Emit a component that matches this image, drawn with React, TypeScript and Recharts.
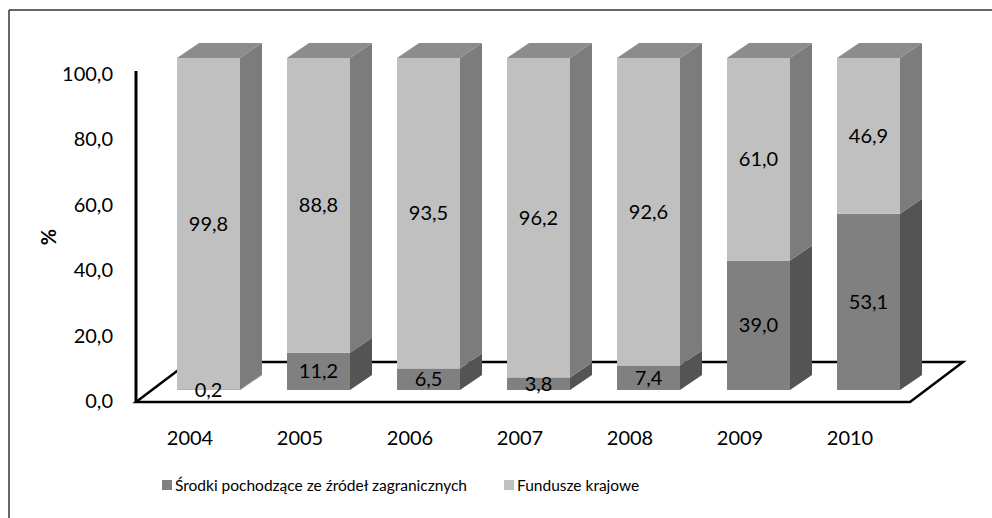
import React from 'react';
import { BarChart, Bar, XAxis, YAxis, LabelList, Legend } from 'recharts';

const years = ['2004', '2005', '2006', '2007', '2008', '2009', '2010'];
const foreignShare = [0.2, 11.2, 6.5, 3.8, 7.4, 39.0, 53.1];
const domesticShare = [99.8, 88.8, 93.5, 96.2, 92.6, 61.0, 46.9];
const yTicks = [0, 20, 40, 60, 80, 100];

const seriesNames = {
  foreign: 'Środki pochodzące ze źródeł zagranicznych',
  domestic: 'Fundusze krajowe',
};

const data = years.map((year, i) => ({
  year,
  foreign: foreignShare[i],
  domestic: domesticShare[i],
}));

const W = 992;
const H = 518;
const PLOT_LEFT = 135;
const PLOT_RIGHT = 905;
const PLOT_TOP = 58;
const PLOT_BOTTOM = 390;
const Y_AXIS_W = 120;
const X_AXIS_H = 60;

// pseudo 3D
const SHIFT = 18; // front face shifted right from the category centre
const DEPTH_X = 22;
const DEPTH_Y = 15;

const FONT = 'Lato, "Open Sans", sans-serif';

const COLORS = {
  foreign: { front: '#808080', side: '#545454', top: '#6a6a6a' },
  domestic: { front: '#c0c0c0', side: '#7c7c7c', top: '#8c8c8c' },
};

const fmt = (v: number) => v.toFixed(1).replace('.', ',');

function makeBox(key: 'foreign' | 'domestic', withTop: boolean) {
  return (props: any) => {
    const { x, y, width, height } = props;
    if (height == null || width == null) return null;
    const c = COLORS[key];
    const fx = x + SHIFT;
    const side = `${fx + width},${y} ${fx + width + DEPTH_X},${y - DEPTH_Y} ${fx + width + DEPTH_X},${y + height - DEPTH_Y} ${fx + width},${y + height}`;
    const top = `${fx},${y} ${fx + DEPTH_X},${y - DEPTH_Y} ${fx + width + DEPTH_X},${y - DEPTH_Y} ${fx + width},${y}`;
    return (
      <g>
        <polygon points={side} fill={c.side} />
        {withTop && <polygon points={top} fill={c.top} />}
        <rect x={fx} y={y} width={width} height={height} fill={c.front} />
      </g>
    );
  };
}

const renderValue = (props: any) => {
  const { x, y, width, height, value } = props;
  return (
    <text
      x={x + SHIFT + width / 2}
      y={y + height / 2}
      dy="0.35em"
      textAnchor="middle"
      fontSize={20}
      fontFamily={FONT}
      fill="#000"
    >
      {fmt(Number(value))}
    </text>
  );
};

const XTick = (props: any) => {
  const { x, y, payload } = props;
  return (
    <text x={x} y={y + 46} dy="0.35em" textAnchor="middle" fontSize={20} fontFamily={FONT} fill="#000">
      {payload.value}
    </text>
  );
};

const YTick = (props: any) => {
  const { x, y, payload } = props;
  // perspective: labels sit a little lower than the bars' front scale
  const ly = PLOT_BOTTOM + 11 - (PLOT_BOTTOM - y) * 0.985;
  return (
    <text x={x} y={ly} dy="0.35em" textAnchor="end" fontSize={20} fontFamily={FONT} fill="#000">
      {fmt(payload.value)}
    </text>
  );
};

const renderLegend = () => (
  <div style={{ display: 'flex', alignItems: 'center', fontFamily: FONT, fontSize: 15.5, color: '#000' }}>
    {(['foreign', 'domestic'] as const).map((k, i) => (
      <div key={k} style={{ display: 'flex', alignItems: 'center', marginRight: i === 0 ? 37 : 0 }}>
        <span style={{ width: 10, height: 10, background: COLORS[k].front, marginRight: 3, display: 'inline-block' }} />
        <span>{seriesNames[k]}</span>
      </div>
    ))}
  </div>
);

function Floor() {
  const fy = PLOT_BOTTOM + 12;
  const by = fy - 40;
  const x0 = PLOT_LEFT + 1;
  const x1 = PLOT_RIGHT + 5;
  const d = 53;
  return (
    <svg width={W} height={H} style={{ position: 'absolute', left: 0, top: 0 }}>
      <line x1={9} y1={10} x2={W} y2={10} stroke="#333" strokeWidth={1.5} />
      <line x1={9} y1={10} x2={9} y2={H} stroke="#333" strokeWidth={1.5} />
      <polygon
        points={`${x0},${fy} ${x1},${fy} ${x1 + d},${by} ${x0 + d},${by}`}
        fill="#fff"
        stroke="#000"
        strokeWidth={2.5}
        strokeLinejoin="miter"
      />
      <line x1={x0} y1={PLOT_TOP + 13} x2={x0} y2={fy} stroke="#000" strokeWidth={3} />
    </svg>
  );
}

export default function App() {
  return (
    <div style={{ position: 'fixed', left: 0, top: 0, width: W, height: H, background: '#fff' }}>
      <Floor />
      <div style={{ position: 'absolute', left: 0, top: 0 }}>
        <BarChart
          width={W}
          height={H}
          data={data}
          margin={{ top: PLOT_TOP, right: W - PLOT_RIGHT, bottom: H - PLOT_BOTTOM - X_AXIS_H, left: PLOT_LEFT - Y_AXIS_W }}
          barSize={63}
        >
          <XAxis dataKey="year" axisLine={false} tickLine={false} tickSize={0} height={X_AXIS_H} tick={<XTick />} interval={0} />
          <YAxis
            domain={[0, 100]}
            ticks={yTicks}
            width={Y_AXIS_W}
            axisLine={false}
            tickLine={false}
            tickSize={0}
            tickMargin={22}
            tick={<YTick />}
            label={{
              content: () => (
                <text
                  x={49}
                  y={237}
                  transform="rotate(-90 49 237)"
                  textAnchor="middle"
                  dy="0.35em"
                  fontSize={20}
                  fontWeight="bold"
                  fontFamily={FONT}
                  fill="#000"
                >
                  %
                </text>
              ),
            }}
          />
          <Legend
            verticalAlign="middle"
            layout="horizontal"
            align="center"
            wrapperStyle={{ top: 476, left: 162, width: 'auto' }}
            content={renderLegend}
          />
          <Bar dataKey="foreign" name={seriesNames.foreign} stackId="a" fill={COLORS.foreign.front} shape={makeBox('foreign', false)} isAnimationActive={false}>
            <LabelList dataKey="foreign" content={renderValue} />
          </Bar>
          <Bar dataKey="domestic" name={seriesNames.domestic} stackId="a" fill={COLORS.domestic.front} shape={makeBox('domestic', true)} isAnimationActive={false}>
            <LabelList dataKey="domestic" content={renderValue} />
          </Bar>
        </BarChart>
      </div>
    </div>
  );
}
